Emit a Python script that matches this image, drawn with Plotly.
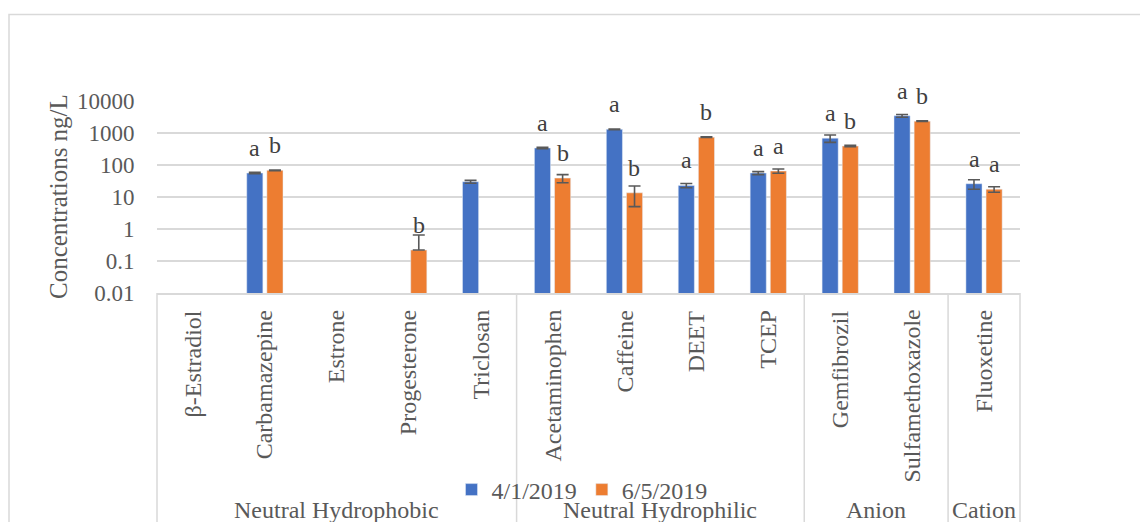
import math
import plotly.graph_objects as go

# chart data
categories = ["β-Estradiol", "Carbamazepine", "Estrone", "Progesterone", "Triclosan",
              "Acetaminophen", "Caffeine", "DEET", "TCEP",
              "Gemfibrozil", "Sulfamethoxazole", "Fluoxetine"]
groups = ["Neutral Hydrophobic"] * 5 + ["Neutral Hydrophilic"] * 4 + ["Anion"] * 2 + ["Cation"]

apr_vals = [None, 56, None, None, 30, 340, 1300, 23, 56, 690, 3450, 26]
apr_err = [0, 3, 0, 0, 3, 15, 40, 3.5, 6, 180, 350, 8.5]
apr_letters = ["", "a", "", "", "", "a", "a", "a", "a", "a", "a", "a"]

jun_vals = [None, 68, None, 0.22, None, 39, 13.5, 740, 65, 390, 2350, 17.5]
jun_err = [0, 2, 0, 0.43, 0, 11, 8.5, 20, 10, 20, 60, 3.5]
jun_letters = ["", "b", "", "b", "", "b", "b", "b", "a", "b", "b", "a"]

y_ticks = [0.01, 0.1, 1, 10, 100, 1000, 10000]
y_ticktext = ["0.01", "0.1", "1", "10", "100", "1000", "10000"]

FONT = "Liberation Serif, Times New Roman, serif"
GREY = "#595959"
LINE = "#d9d9d9"

# the page body adds an 8px margin, so the figure is drawn 8px in
OFF = 8
FW, FH = 1148 - OFF, 522 - OFF
# plot area in page pixels
L, R, T, B = 157, 1020, 101, 294
W, H = R - L, B - T


def px(x):
    return (x - L) / W


def py(y):
    return (B - y) / H


def minus(vals, errs):
    # log axis: lower error cannot go below zero
    return [0 if v is None or e >= v else e for v, e in zip(vals, errs)]


fig = go.Figure()
fig.add_trace(go.Bar(x=categories, y=apr_vals, name="4/1/2019", marker_color="#4472C4",
                     error_y=dict(type="data", symmetric=False, array=apr_err,
                                  arrayminus=minus(apr_vals, apr_err),
                                  color=GREY, thickness=1.6, width=6)))
fig.add_trace(go.Bar(x=categories, y=jun_vals, name="6/5/2019", marker_color="#ED7D31",
                     error_y=dict(type="data", symmetric=False, array=jun_err,
                                  arrayminus=minus(jun_vals, jun_err),
                                  color=GREY, thickness=1.6, width=6)))

annotations = []
# significance letters above bars
for vals, letters, shift in [(apr_vals, apr_letters, -10), (jun_vals, jun_letters, 10)]:
    for c, v, t in zip(categories, vals, letters):
        if v is None or not t:
            continue
        annotations.append(dict(x=c, y=math.log10(v), text=t, showarrow=False,
                                xshift=shift, yshift=10, yanchor="bottom", xanchor="center",
                                font=dict(family=FONT, size=24, color="#404040")))

# rotated category labels
for c in categories:
    annotations.append(dict(x=c, xref="x", y=py(309), yref="paper", text=c,
                            textangle=-90, showarrow=False, yanchor="top", xanchor="center",
                            font=dict(family=FONT, size=24, color=GREY)))

# group labels and dividers
shapes = []
bounds = [0]
for i in range(1, len(groups)):
    if groups[i] != groups[i - 1]:
        bounds.append(i)
bounds.append(len(groups))
for a, b in zip(bounds[:-1], bounds[1:]):
    annotations.append(dict(x=(a + b - 1) / 2, xref="x", y=py(512), yref="paper",
                            text=groups[a], showarrow=False, yanchor="middle", xanchor="center",
                            font=dict(family=FONT, size=24, color=GREY)))
for b in bounds:
    xb = b / len(categories)
    shapes.append(dict(type="line", xref="paper", yref="paper", x0=xb, x1=xb,
                       y0=0, y1=py(560), line=dict(color=LINE, width=1.5)))

# outer chart border (cropped on the right and bottom)
shapes.append(dict(type="rect", xref="paper", yref="paper", x0=px(9), x1=px(1200),
                   y0=py(14), y1=py(600), line=dict(color=LINE, width=1.5),
                   fillcolor="rgba(0,0,0,0)", layer="below"))

annotations.append(dict(x=px(58), y=0.5, xref="paper", yref="paper",
                        text="Concentrations ng/L", textangle=-90, showarrow=False,
                        xanchor="center", yanchor="middle",
                        font=dict(family=FONT, size=25, color=GREY)))

fig.update_layout(
    width=FW, height=FH,
    margin=dict(l=L - OFF, r=FW - (R - OFF), t=T - OFF, b=FH - (B - OFF), pad=0),
    paper_bgcolor="white", plot_bgcolor="white",
    barmode="group", bargap=0.44, bargroupgap=0.2,
    font=dict(family=FONT, size=23, color=GREY),
    showlegend=True,
    legend=dict(orientation="h", x=px(582), y=py(490), xanchor="center", yanchor="middle",
                font=dict(family=FONT, size=24, color=GREY), bgcolor="rgba(0,0,0,0)"),
    annotations=annotations, shapes=shapes,
)
fig.update_xaxes(type="category", range=[-0.5, len(categories) - 0.5], showticklabels=False,
                 showgrid=False, showline=True, linecolor=LINE, linewidth=1.5, ticks="")
fig.update_yaxes(type="log", range=[-2, 4], tickvals=y_ticks, ticktext=y_ticktext,
                 showgrid=True, gridcolor=LINE, gridwidth=1.5, zeroline=False, showline=False,
                 ticks="outside", ticklen=17, tickcolor="rgba(0,0,0,0)",
                 tickfont=dict(family=FONT, size=23, color=GREY))

fig.write_html("out.html")
